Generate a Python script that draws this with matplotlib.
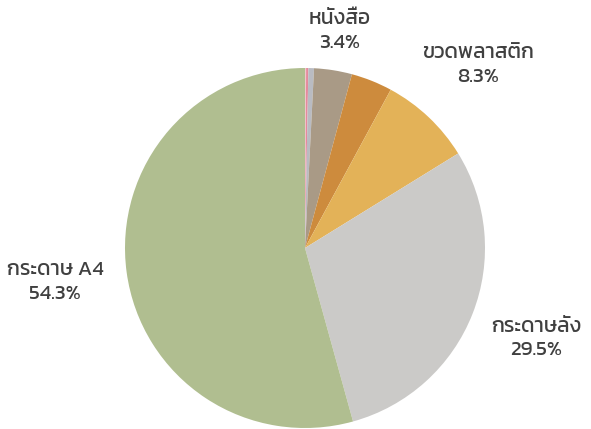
import numpy as np
import matplotlib
matplotlib.use('Agg')
import matplotlib.pyplot as plt
from matplotlib import font_manager
from matplotlib.ft2font import FT2Font

# slices, clockwise from the top
Labels = ['', '', '', 'หนังสือ', '', 'ขวดพลาสติก', 'กระดาษลัง', 'กระดาษ A4']
Values = [0.1, 0.2, 0.5, 3.4, 3.7, 8.3, 29.5, 54.3]
Colors = ['#F2C6CB', '#E58A9C', '#B9BBC2', '#A99A86', '#CD8B3D',
          '#E3B258', '#CBCAC8', '#B0BE90']
LabelDist = [0, 0, 0, 1.22, 0, 1.40, 1.38, 1.40]


def thai_font():
    # look for any installed font that has Thai glyphs
    prefer = ['Kanit', 'Prompt', 'Noto Sans Thai', 'Noto Sans Thai Looped',
              'Sarabun', 'Tlwg', 'Loma', 'Garuda', 'Norasi']
    found = []
    for f in font_manager.fontManager.ttflist:
        try:
            cmap = FT2Font(f.fname).get_charmap()
        except Exception:
            continue
        if 0x0E01 in cmap and 0x0E2A in cmap:
            found.append(f.name)
    for p in prefer:
        for n in found:
            if n.startswith(p):
                return n
    return found[0] if found else None


tf = thai_font()
fams = ([tf] if tf else []) + ['DejaVu Sans']
plt.rcParams['font.family'] = fams

fig = plt.figure(figsize=(5.91, 4.29), dpi=100)
ax = fig.add_axes([0.0, 0.0, 1.0, 1.0])

wedges, _ = ax.pie(Values, colors=Colors, startangle=90, counterclock=False,
                   radius=1.0, center=(0, 0),
                   wedgeprops=dict(linewidth=0, edgecolor='none'))

for w, lab, val, d in zip(wedges, Labels, Values, LabelDist):
    if not lab:
        continue
    ang = np.deg2rad((w.theta1 + w.theta2) / 2)
    x, y = d * np.cos(ang), d * np.sin(ang)
    ax.text(x, y, lab + '\n' + str(val) + '%', ha='center', va='center',
            fontsize=15, color='#404040', linespacing=1.38,
            fontweight='normal')

ax.set_aspect('equal')
ax.set_xlim(-1.0 - 125 / 180, 1.0 + 106 / 180)
ax.set_ylim(-1.0 - 1 / 180, 1.0 + 68 / 180)
ax.axis('off')

fig.savefig('out.png', dpi=100)
